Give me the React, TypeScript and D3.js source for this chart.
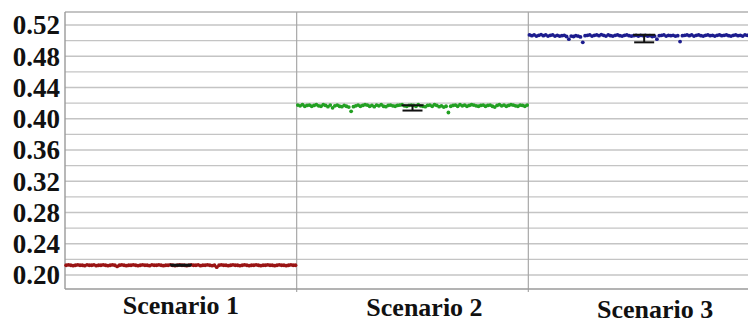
import React from "react";
import * as d3 from "d3";

const categories = ["Scenario 1", "Scenario 2", "Scenario 3"];
const baseValues = [0.2125, 0.417, 0.5068];
const unit = 0.0005;
const noise1 = [0,1,0,-1,0,1,0,0,-1,1, 0,0,1,-1,0,0,1,0,-1,0, 1,0,-3,0,1,0,-1,0,0,1, 0,-1,0,1,0,0,-1,1,0,0, 1,0,-1,0,0,1,0,-1,0,1, 0,0,-1,0,1,0,0,1,-1,0, 0,1,0,-1,0,-5,0,1,0,0, -1,0,1,0,0,-1,0,1,0,-1, 0,0,1,0,-1,0,0,1,0,0, -1,0,1,0,0,-1,0,1,0,0];
const noise2 = [1,-1,2,-2,0,1,-2,0,2,-1, -2,2,0,-3,1,-6,-1,1,-2,-3, 0,-2,-4,-15,-3,-1,1,-2,0,2, 1,-2,0,-3,1,-1,2,-2,-3,0, 1,-1,-2,0,1,2,-1,-2,0,1, 0,-2,2,-1,-2,-3,0,1,-2,2, 0,-3,-1,-4,-2,-18,-2,0,1,-2, 2,-1,1,-2,0,2,1,-1,-2,0, 1,-2,0,1,-2,-4,0,2,-1,1, -2,0,2,1,-1,-2,1,0,-2,1];
const noise3 = [1,-1,1,-2,0,2,-1,1,-2,0, 1,-2,0,-2,-1,0,-3,-10,-2,-3, -1,-2,-4,-18,-1,0,1,-2,0,1, -1,2,0,-2,1,-1,-2,0,1,-1, -2,0,1,-1,-2,-1,0,-2,0,-1, 0,-2,-1,-3,-2,-10,-1,0,1,-2, 0,-1,0,-2,-1,-16,-1,0,1,-1, 1,-2,0,1,-1,-2,0,1,-1,0, -2,0,1,-1,0,1,-1,-2,0,1, -1,0,-2,1,0,-1,1,-2,0,0];
const noiseSeries = [noise1, noise2, noise3];
const errLow = [0.2118, 0.4105, 0.4978];
const errHigh = [0.2132, 0.4172, 0.5075];
const yTicks = [0.2, 0.24, 0.28, 0.32, 0.36, 0.4, 0.44, 0.48, 0.52];
const yGrid = [0.2, 0.22, 0.24, 0.26, 0.28, 0.3, 0.32, 0.34, 0.36, 0.38, 0.4, 0.42, 0.44, 0.46, 0.48, 0.5, 0.52];
const colors = ["#9a1414", "#23a023", "#1c1c8e"];
const labelDx = [0, 12, 11];
const labelDy = [0, 2, 4];

const W = 748, H = 323;
const left = 65, right = 760, top = 12, bottom = 289;

export default function App() {
  const y = d3.scaleLinear().domain([0.2, 0.52]).range([275, 25]);
  const x = d3.scaleBand<string>().domain(categories).range([left, right]).padding(0);
  const bw = x.bandwidth();
  const font = "'Liberation Serif', 'Times New Roman', serif";

  return (
    <svg width={W} height={H} style={{ position: "absolute", left: 0, top: 0, background: "#fff" }}>
      <rect x={0} y={0} width={W} height={H} fill="#fff" />
      {yGrid.map((v) => (
        <line key={v} x1={left} x2={right} y1={y(v)} y2={y(v)} stroke="#c4c4c4" strokeWidth={1.3} />
      ))}
      <line x1={left} x2={right} y1={top} y2={top} stroke="#b0b0b0" strokeWidth={1.3} />
      {categories.slice(1).map((c) => (
        <line key={c} x1={x(c)!} x2={x(c)!} y1={top} y2={bottom + 3} stroke="#a8a8a8" strokeWidth={1.2} />
      ))}
      <line x1={left} x2={left} y1={top} y2={bottom} stroke="#9a9a9a" strokeWidth={1.4} />
      <line x1={left} x2={right} y1={bottom} y2={bottom} stroke="#9a9a9a" strokeWidth={1.4} />
      {yTicks.map((v) => (
        <text key={v} x={60} y={y(v)} dy="0.35em" textAnchor="end" fontFamily={font} fontWeight="bold" fontSize={27} fill="#111">
          {v.toFixed(2)}
        </text>
      ))}
      {categories.map((c, ci) => {
        const n = noiseSeries[ci].length;
        const step = bw / n;
        const x0 = x(c)!;
        return (
          <g key={c}>
            {noiseSeries[ci].map((d, i) => (
              <circle key={i} cx={x0 + (i + 0.5) * step} cy={y(baseValues[ci] + d * unit)} r={1.9} fill={colors[ci]} />
            ))}
          </g>
        );
      })}
      {categories.map((c, ci) => {
        const cx = x(c)! + bw / 2;
        const y1 = y(errHigh[ci]);
        const y2 = y(errLow[ci]);
        return (
          <g key={c} stroke="#111" strokeWidth={2}>
            <line x1={cx} x2={cx} y1={y1} y2={y2} />
            <line x1={cx - 11} x2={cx + 11} y1={y1} y2={y1} />
            <line x1={cx - 10} x2={cx + 10} y1={y2} y2={y2} />
          </g>
        );
      })}
      {categories.map((c, ci) => (
        <text key={c} x={x(c)! + bw / 2 + labelDx[ci]} y={314 + labelDy[ci]} textAnchor="middle" fontFamily={font} fontWeight="bold" fontSize={26} fill="#111">
          {c}
        </text>
      ))}
    </svg>
  );
}
